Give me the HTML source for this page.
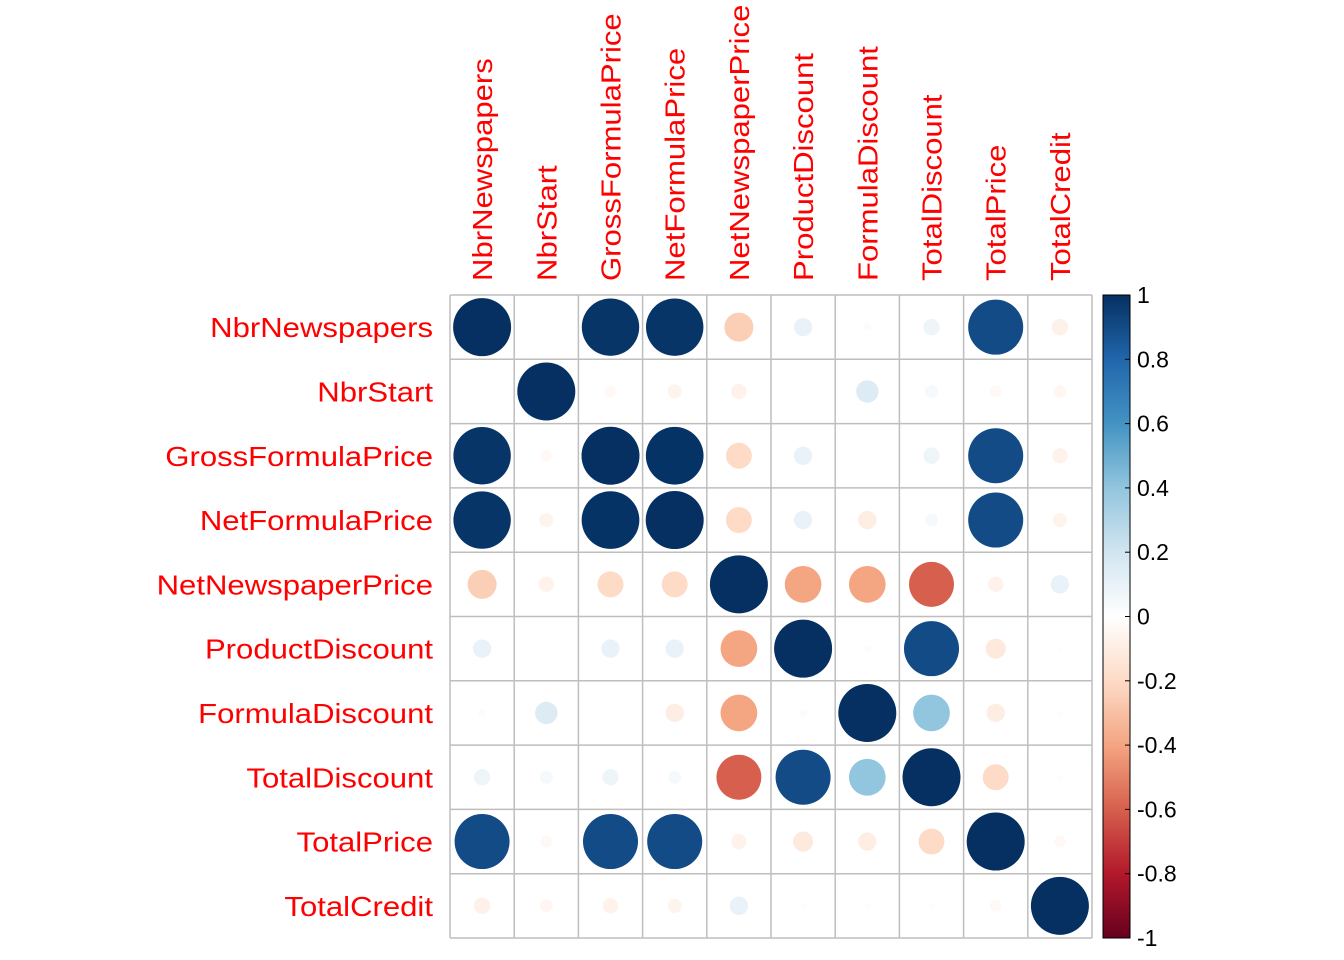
<!DOCTYPE html>
<html><head><meta charset="utf-8"><style>
html,body{margin:0;padding:0;background:#fff;}
svg{display:block;font-family:"Liberation Sans",Arial,sans-serif;}
</style></head><body>
<svg id="chart" width="1344" height="960" xmlns="http://www.w3.org/2000/svg"></svg>
<script>
const variables = ["NbrNewspapers","NbrStart","GrossFormulaPrice","NetFormulaPrice","NetNewspaperPrice","ProductDiscount","FormulaDiscount","TotalDiscount","TotalPrice","TotalCredit"];
const corrValues = [
 [1,0,0.98,0.98,-0.25,0.1,0.02,0.08,0.9,-0.08],
 [0,1,-0.04,-0.06,-0.07,0,0.15,0.05,-0.04,-0.05],
 [0.98,-0.04,1,0.99,-0.2,0.1,0,0.08,0.9,-0.07],
 [0.98,-0.06,0.99,1,-0.2,0.1,-0.1,0.05,0.9,-0.06],
 [-0.25,-0.07,-0.2,-0.2,1,-0.4,-0.4,-0.6,-0.07,0.1],
 [0.1,0,0.1,0.1,-0.4,1,-0.02,0.9,-0.12,-0.01],
 [0.02,0.15,0,-0.1,-0.4,-0.02,1,0.4,-0.1,-0.01],
 [0.08,0.05,0.08,0.05,-0.6,0.9,0.4,1,-0.2,-0.01],
 [0.9,-0.04,0.9,0.9,-0.07,-0.12,-0.1,-0.2,1,-0.04],
 [-0.08,-0.05,-0.07,-0.06,0.1,-0.01,-0.01,-0.01,-0.04,1]
];
const colorbarTicks = [1,0.8,0.6,0.4,0.2,0,-0.2,-0.4,-0.6,-0.8,-1];
const colorbarLabels = ["1","0.8","0.6","0.4","0.2","0","-0.2","-0.4","-0.6","-0.8","-1"];

const NS="http://www.w3.org/2000/svg";
const svg=document.getElementById('chart');
const L=450,R=1092,T=295,B=938,n=variables.length,cw=(R-L)/n,ch=(B-T)/n,maxR=29;
const stops=["#67001F","#B2182B","#D6604D","#F4A582","#FDDBC7","#FFFFFF","#D1E5F0","#92C5DE","#4393C3","#2166AC","#053061"];
function hex(h){return [1,3,5].map(i=>parseInt(h.substr(i,2),16));}
function color(v){
  const t=(Math.max(-1,Math.min(1,v))+1)/2*10;const i=Math.min(9,Math.floor(t));const f=t-i;
  const a=hex(stops[i]),b=hex(stops[i+1]);
  return "rgb("+a.map((x,k)=>Math.round(x+(b[k]-x)*f)).join(",")+")";
}
function mk(tag,attrs){const e=document.createElementNS(NS,tag);for(const k in attrs)e.setAttribute(k,attrs[k]);return e;}
const xScale=j=>L+cw*(j+0.5), yScale=i=>T+ch*(i+0.5);
function stretch(t,f){const w=t.getComputedTextLength();t.setAttribute('textLength',w*f);t.setAttribute('lengthAdjust','spacingAndGlyphs');}

const grid=mk('g',{});


for(let k=0;k<=n;k++){
  grid.appendChild(mk('line',{x1:L+cw*k,y1:T,x2:L+cw*k,y2:B,stroke:"#bebebe","stroke-width":1.5}));
  grid.appendChild(mk('line',{x1:L,y1:T+ch*k,x2:R,y2:T+ch*k,stroke:"#bebebe","stroke-width":1.5}));
}
svg.appendChild(grid);

for(let i=0;i<n;i++)for(let j=0;j<n;j++){
  const v=corrValues[i][j];
  const c=mk('circle',{cx:xScale(j),cy:yScale(i),r:maxR*Math.sqrt(Math.abs(v)),fill:color(v)});
  
  
  svg.appendChild(c);
}

variables.forEach((v,i)=>{
  const t=mk('text',{x:433,y:yScale(i)+10,"text-anchor":"end","font-size":28,fill:"#ff0000"});
  t.textContent=v;
  
  
  svg.appendChild(t);
  stretch(t,1.11);
  const x=xScale(i)+10;
  const c=mk('text',{x:x,y:281,transform:`rotate(-90 ${x} 281)`,"font-size":28,fill:"#ff0000"});
  c.textContent=v;
  
  
  svg.appendChild(c);
  stretch(c,1.11);
});

const cbL=1103,cbR=1130;
const defs=mk('defs',{});const g=mk('linearGradient',{id:'cb',x1:0,y1:1,x2:0,y2:0});
stops.forEach((s,k)=>g.appendChild(mk('stop',{offset:(k/10),"stop-color":s})));
defs.appendChild(g);svg.appendChild(defs);
const bar=mk('rect',{x:cbL,y:T,width:cbR-cbL,height:B-T,fill:"url(#cb)",stroke:"#000","stroke-width":1});


svg.appendChild(bar);
colorbarTicks.forEach((v,k)=>{
  const y=T+(1-v)/2*(B-T);
  svg.appendChild(mk('line',{x1:cbR-5,y1:y,x2:cbR,y2:y,stroke:"#000","stroke-width":1}));
  const t=mk('text',{x:1137,y:y+8,"font-size":23,fill:"#000"});
  t.textContent=colorbarLabels[k];
  
  
  svg.appendChild(t);
});
</script>
</body></html>
